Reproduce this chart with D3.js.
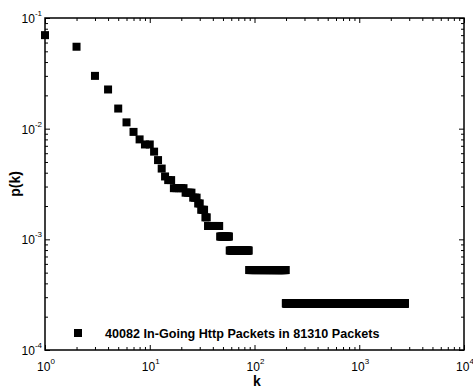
<!DOCTYPE html>
<html>
<head>
<meta charset="utf-8">
<script src="https://cdn.jsdelivr.net/npm/d3@7"></script>
<style>
  body { margin: 0; background: #fff; }
  text { font-family: "Liberation Sans", Arial, Helvetica, sans-serif; }
</style>
</head>
<body>
<div id="chart"></div>
<script>
// p(k) for the first k values
const headK = [1, 2, 3, 4, 5, 6, 7, 8, 9, 10, 11, 12, 13, 14];
const headP = [0.070, 0.055, 0.030, 0.0226, 0.0152, 0.0114, 0.00935, 0.0080, 0.0072, 0.0072, 0.0062, 0.0052, 0.00436, 0.0037];

// runs of consecutive k that share one p value (the flat bars)
const runFrom = [15, 17, 22, 26, 29, 31, 34, 36, 47, 58, 89, 199];
const runTo   = [16, 21, 25, 28, 30, 33, 35, 46, 57, 88, 198, 2700];
const runP    = [3.43e-3, 2.90e-3, 2.64e-3, 2.38e-3, 2.11e-3, 1.85e-3, 1.58e-3, 1.32e-3, 1.06e-3, 7.92e-4, 5.28e-4, 2.64e-4];

// axis decades (exponents)
const xDecades = [0, 1, 2, 3, 4];
const yDecades = [-4, -3, -2, -1];

const legendText = "40082 In-Going Http Packets in 81310 Packets";

// build the point list
const points = headK.map((k, i) => ({ k: k, p: headP[i] }));
runFrom.forEach((a, i) => {
    for (let k = a; k <= runTo[i]; k++) points.push({ k: k, p: runP[i] });
});

// chart dimensions
const margin = { top: 18, right: 9, bottom: 40, left: 45 };
const width = 473 - margin.left - margin.right;
const height = 390 - margin.top - margin.bottom;

const svg = d3.select("#chart")
    .append("svg")
    .attr("width", 473)
    .attr("height", 390);

const g = svg.append("g")
    .attr("transform", `translate(${margin.left},${margin.top})`);

const x = d3.scaleLog().domain([1, 1e4]).range([0, width]);
const y = d3.scaleLog().domain([1e-4, 1e-1]).range([height, 0]);

// minor tick values (2..9 in every decade)
const xMinor = [];
xDecades.slice(0, -1).forEach(d => { for (let m = 2; m <= 9; m++) xMinor.push(m * Math.pow(10, d)); });
const yMinor = [];
yDecades.slice(0, -1).forEach(d => { for (let m = 2; m <= 9; m++) yMinor.push(m * Math.pow(10, d)); });
const xMajor = xDecades.map(d => Math.pow(10, d));
const yMajor = yDecades.map(d => Math.pow(10, d));

// ticks pointing inward on all four sides
function tickAxis(axis, vals, size, transform) {
    const a = g.append("g")
        .attr("transform", transform)
        .call(axis.tickValues(vals).tickSizeInner(size).tickSizeOuter(0).tickFormat(""));
    a.select(".domain").remove();
    a.selectAll("line").attr("stroke", "#000").attr("stroke-width", 1);
}
tickAxis(d3.axisBottom(x), xMajor, -5, `translate(0,${height})`);
tickAxis(d3.axisBottom(x), xMinor, -3, `translate(0,${height})`);
tickAxis(d3.axisTop(x), xMajor, -5, "translate(0,0)");
tickAxis(d3.axisTop(x), xMinor, -3, "translate(0,0)");
tickAxis(d3.axisLeft(y), yMajor, -5, "translate(0,0)");
tickAxis(d3.axisLeft(y), yMinor, -3, "translate(0,0)");
tickAxis(d3.axisRight(y), yMajor, -5, `translate(${width},0)`);
tickAxis(d3.axisRight(y), yMinor, -3, `translate(${width},0)`);

// frame
g.append("rect")
    .attr("width", width)
    .attr("height", height)
    .attr("fill", "none")
    .attr("stroke", "#000")
    .attr("stroke-width", 1.5);

// x tick labels: 10 with superscript exponent
xDecades.forEach(d => {
    const t = g.append("text")
        .attr("x", x(Math.pow(10, d)) + 1)
        .attr("y", height + 21)
        .attr("text-anchor", "middle")
        .style("font-size", "12px");
    t.append("tspan").text("10");
    t.append("tspan").attr("dy", -7).style("font-size", "8px").text(d);
});

// y tick labels
yDecades.forEach(d => {
    const t = g.append("text")
        .attr("x", -3)
        .attr("y", y(Math.pow(10, d)) + 5)
        .attr("text-anchor", "end")
        .style("font-size", "12px");
    t.append("tspan").text("10");
    t.append("tspan").attr("dy", -7).style("font-size", "8px").text(d);
});

// points
const ms = 8;
g.selectAll("rect.pt")
    .data(points)
    .enter().append("rect")
    .attr("class", "pt")
    .attr("x", d => x(d.k) - ms / 2)
    .attr("y", d => y(d.p) - ms / 2)
    .attr("width", ms)
    .attr("height", ms)
    .attr("fill", "#000");

// legend
g.append("rect")
    .attr("x", 33 - ms / 2)
    .attr("y", 315 - ms / 2)
    .attr("width", ms)
    .attr("height", ms)
    .attr("fill", "#000");
g.append("text")
    .attr("x", 60)
    .attr("y", 320)
    .style("font-size", "12.6px")
    .style("font-weight", "bold")
    .text(legendText);

// axis labels
svg.append("text")
    .attr("x", 257)
    .attr("y", 386)
    .attr("text-anchor", "middle")
    .style("font-size", "14px")
    .style("font-weight", "bold")
    .text("k");

svg.append("text")
    .attr("transform", `translate(20,${margin.top + height / 2}) rotate(-90)`)
    .attr("text-anchor", "middle")
    .style("font-size", "14px")
    .style("font-weight", "bold")
    .text("p(k)");
</script>
</body>
</html>
